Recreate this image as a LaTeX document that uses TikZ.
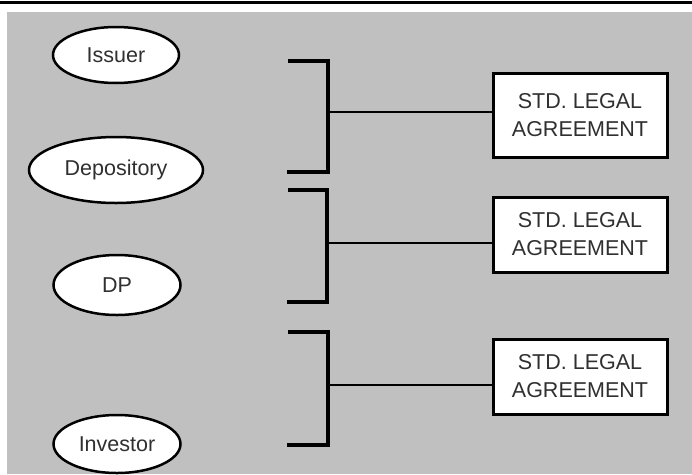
\documentclass[tikz,border=0pt]{standalone}
\usepackage{fontspec}
\setmainfont{Liberation Sans}
\usetikzlibrary{shapes.geometric,positioning,calc}
\definecolor{panelgray}{HTML}{C0C0C0}
\definecolor{inkgray}{HTML}{303030}

\begin{document}
\begin{tikzpicture}[x=1pt,y=-1pt,
    party/.style={ellipse,draw,line width=2.5pt,fill=white,inner sep=0pt,
                  text=inkgray,font=\fontsize{21.5}{26}\selectfont},
    agreement/.style={rectangle,draw,line width=3pt,fill=white,inner sep=0pt,
                  minimum width=174pt,text=inkgray,align=center,
                  font=\fontsize{21.5}{28}\selectfont},
    brace/.style={line width=3.2pt,line cap=rect},
    link/.style={line width=2.2pt}]
                \useasboundingbox (0,0) rectangle (692,474);
                % frame
                \fill[panelgray] (7,12) rectangle (692,474);
                \draw[line width=3pt] (0,2) -- (692,2);

                % the parties
                \node[party,minimum width=126pt,minimum height=56pt] (issuer) at (116,55) {Issuer};
                \node[party,minimum width=174pt,minimum height=66pt] (depository) at (116,170) {Depository};
                \node[party,minimum width=127pt,minimum height=60pt] (dp) at (117,285) {DP};
                \node[party,minimum width=127pt,minimum height=58pt] (investor) at (117,444) {Investor};

                % the agreements
                \node[agreement,minimum height=84pt] (legalA) at (580,115) {STD. LEGAL\\AGREEMENT};
                \node[agreement,minimum height=75pt] (legalB) at (580,234.5) {STD. LEGAL\\AGREEMENT};
                \node[agreement,minimum height=75pt] (legalC) at (580,376.5) {STD. LEGAL\\AGREEMENT};

                % the brackets
                \draw[brace] (290,61) -- (328,61) -- (328,172) -- (289,172);
                \draw[brace] (290,190) -- (327,190) -- (327,302) -- (289,302);
                \draw[brace] (290,332) -- (328,332) -- (328,445) -- (289,445);
                \coordinate (joinA) at (328,112);
                \coordinate (joinB) at (327,243);
                \coordinate (joinC) at (328,385);

                \draw[link] (joinA) -- (joinA -| legalA.west);
                \draw[link] (joinB) -- (joinB -| legalB.west);
                \draw[link] (joinC) -- (joinC -| legalC.west);
              \end{tikzpicture}
\end{document}
